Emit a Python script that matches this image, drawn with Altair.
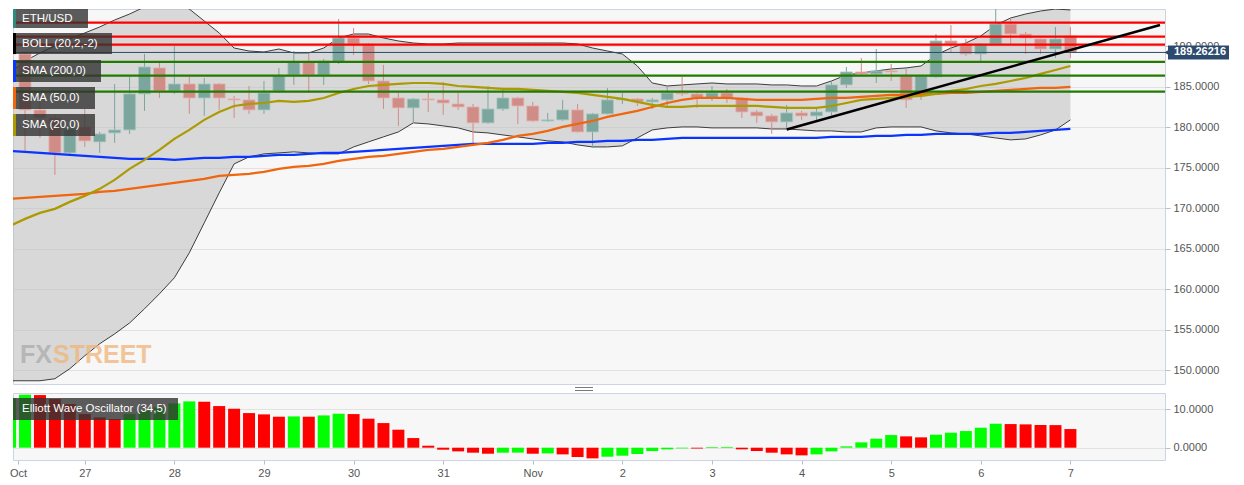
import altair as alt
import pandas as pd

# ---------------- values ----------------
first_candle = "2019-10-26 04:00"      # 4-hour candles
n_candles = 72
time_origin = "2019-10-26 00:00"
view_start = "2019-10-26 06:07"
view_end = "2019-11-08 00:00"

opens = [190.31, 189.07, 182.16, 181.17, 176.85, 180.06, 178.21, 179.32, 179.69, 184.14,
         187.35, 184.51, 185.37, 183.64, 185.37, 183.52, 183.40, 182.16, 184.51, 186.48,
         188.09, 186.48, 188.09, 191.05, 190.31, 185.74, 183.64, 182.41, 183.52, 183.40,
         182.90, 182.53, 180.56, 182.28, 183.64, 182.65, 180.80, 180.93, 182.16, 179.44,
         181.67, 183.40, 183.52, 183.15, 183.40, 184.26, 184.14, 183.64, 184.26, 183.64,
         181.91, 181.42, 180.68, 181.79, 181.42, 181.91, 185.25, 186.85, 186.61, 186.98,
         186.36, 183.89, 186.23, 190.68, 190.31, 189.07, 190.31, 192.78, 191.54, 190.93,
         189.69, 191.30]
highs = [190.45, 189.30, 183.27, 181.42, 180.19, 182.28, 179.44, 185.37, 186.23, 189.07,
         188.21, 190.06, 186.23, 186.11, 185.49, 183.89, 185.12, 185.74, 187.35, 189.44,
         189.07, 188.46, 193.40, 192.28, 190.43, 187.72, 184.26, 183.64, 184.26, 185.62,
         184.26, 182.90, 185.12, 184.88, 183.77, 183.15, 181.79, 183.40, 182.90, 181.79,
         184.88, 184.26, 183.64, 183.64, 185.00, 186.23, 184.38, 185.12, 184.75, 183.70,
         182.16, 181.67, 182.78, 182.04, 182.41, 185.74, 187.47, 188.58, 189.69, 187.84,
         187.22, 186.40, 191.54, 192.65, 190.93, 190.43, 194.88, 193.40, 191.79, 191.00,
         192.41, 192.41]
lows = [188.95, 177.10, 178.70, 174.14, 176.70, 177.59, 176.85, 178.09, 179.20, 182.04,
        183.64, 184.14, 181.67, 181.42, 182.16, 181.17, 181.67, 181.67, 184.26, 185.25,
        184.26, 185.25, 187.84, 188.95, 185.37, 182.28, 180.19, 180.56, 181.91, 181.54,
        182.16, 177.96, 180.43, 182.04, 180.43, 180.68, 180.68, 180.80, 179.35, 177.47,
        181.60, 182.90, 182.65, 182.28, 182.41, 183.89, 182.41, 183.27, 183.02, 181.17,
        180.56, 179.20, 179.81, 180.93, 180.80, 181.42, 184.88, 186.48, 185.49, 185.74,
        182.41, 183.40, 186.10, 189.20, 188.83, 188.21, 190.20, 190.31, 189.07, 189.07,
        188.58, 188.58]
closes = [189.07, 182.16, 181.17, 176.85, 179.81, 178.33, 179.20, 179.69, 184.14, 187.47,
          184.51, 185.37, 183.64, 185.37, 183.64, 183.40, 182.16, 184.26, 186.36, 188.09,
          186.48, 188.21, 191.05, 190.31, 185.74, 183.64, 182.41, 183.52, 183.40, 183.02,
          182.53, 180.56, 182.28, 183.64, 182.65, 180.80, 180.93, 182.16, 179.44, 181.67,
          183.40, 183.52, 183.15, 183.40, 184.26, 184.14, 183.64, 184.26, 183.64, 181.91,
          181.42, 180.68, 181.79, 181.42, 181.91, 185.25, 186.85, 186.61, 186.98, 186.85,
          183.40, 186.36, 190.68, 190.31, 189.07, 190.31, 192.78, 191.54, 191.05, 189.69,
          190.93, 189.26]

bb_upper = [186.73, 188.21, 189.20, 190.06, 190.93, 191.67, 192.41, 193.27, 194.01, 194.88,
            195.12, 195.37, 194.63, 193.15, 191.67, 189.81, 189.44, 189.32, 189.69, 189.20,
            189.20, 189.81, 191.05, 191.54, 191.54, 191.05, 190.68, 190.43, 190.31, 190.31,
            190.43, 190.43, 190.43, 190.43, 190.43, 190.43, 190.43, 190.43, 190.31, 189.81,
            189.44, 189.07, 187.59, 185.49, 185.12, 185.25, 185.37, 185.49, 185.37, 185.37,
            185.37, 185.25, 185.25, 185.12, 185.12, 185.74, 186.48, 186.73, 186.98, 187.22,
            187.35, 187.59, 188.95, 189.81, 190.43, 191.30, 192.65, 193.52, 194.01, 194.38,
            194.63, 194.51]
bb_lower = [148.70, 148.70, 148.70, 148.95, 150.19, 151.79, 153.27, 154.49, 155.84, 157.59,
            159.44, 161.42, 164.51, 168.21, 171.91, 175.49, 176.36, 176.73, 176.85, 176.98,
            176.85, 176.73, 176.73, 177.59, 178.21, 178.83, 179.44, 180.56, 180.43, 180.19,
            179.94, 179.44, 179.32, 179.07, 178.83, 178.58, 178.33, 178.21, 177.84, 177.59,
            177.59, 177.72, 178.70, 179.69, 179.94, 180.06, 180.06, 179.94, 179.94, 179.94,
            179.94, 179.81, 179.81, 179.69, 179.57, 179.57, 179.44, 179.44, 179.94, 180.06,
            180.06, 180.06, 179.57, 179.32, 179.20, 178.95, 178.70, 178.46, 178.58, 179.07,
            179.69, 180.93]
sma20 = [167.84, 168.70, 169.44, 169.94, 170.80, 171.54, 172.41, 173.52, 174.88, 175.99,
         177.22, 178.58, 179.69, 180.93, 181.91, 182.65, 182.90, 183.02, 183.27, 183.15,
         183.27, 183.64, 184.26, 184.75, 185.12, 185.25, 185.37, 185.49, 185.49, 185.37,
         185.12, 185.00, 184.88, 184.75, 184.75, 184.63, 184.51, 184.38, 184.26, 184.01,
         183.77, 183.52, 183.15, 182.78, 182.53, 182.53, 182.65, 182.65, 182.65, 182.65,
         182.65, 182.53, 182.41, 182.41, 182.41, 182.65, 183.02, 183.40, 183.52, 183.64,
         183.77, 183.89, 184.14, 184.51, 184.75, 185.12, 185.37, 185.74, 186.11, 186.61,
         187.10, 187.59]
sma50 = [171.17, 171.30, 171.42, 171.54, 171.67, 171.79, 172.04, 172.16, 172.41, 172.65,
         172.90, 173.15, 173.40, 173.64, 174.01, 174.14, 174.26, 174.51, 174.88, 175.12,
         175.25, 175.49, 175.86, 176.11, 176.36, 176.48, 176.73, 176.98, 177.22, 177.35,
         177.59, 177.84, 178.09, 178.46, 178.95, 179.20, 179.57, 180.06, 180.43, 180.80,
         181.30, 181.67, 182.04, 182.53, 183.02, 183.40, 183.64, 183.64, 183.64, 183.52,
         183.40, 183.40, 183.40, 183.40, 183.52, 183.64, 183.64, 183.77, 183.89, 184.01,
         184.01, 184.14, 184.14, 184.26, 184.26, 184.38, 184.51, 184.63, 184.75, 184.88,
         184.88, 185.00]
sma200 = [177.10, 176.98, 176.85, 176.73, 176.60, 176.48, 176.36, 176.23, 176.11, 176.11,
          176.11, 175.99, 176.11, 176.23, 176.23, 176.36, 176.36, 176.48, 176.60, 176.60,
          176.73, 176.85, 176.85, 176.98, 177.10, 177.22, 177.35, 177.47, 177.59, 177.72,
          177.84, 177.96, 177.96, 177.96, 177.96, 177.96, 178.09, 178.09, 178.21, 178.21,
          178.33, 178.33, 178.46, 178.46, 178.58, 178.70, 178.70, 178.70, 178.70, 178.70,
          178.70, 178.70, 178.70, 178.70, 178.70, 178.83, 178.83, 178.83, 178.95, 178.95,
          179.07, 179.07, 179.20, 179.20, 179.20, 179.20, 179.32, 179.32, 179.44, 179.57,
          179.69, 179.81]

ewo = [12.96, 13.83, 13.74, 12.70, 11.39, 8.78, 7.91, 7.48, 8.78, 9.65,
       10.52, 11.57, 12.09, 12.00, 10.87, 10.17, 9.04, 8.70, 8.09, 8.17,
       8.09, 8.43, 8.87, 8.78, 7.57, 6.43, 4.70, 2.52, 0.52, -0.52,
       -0.96, -1.30, -1.57, -1.30, -1.28, -1.57, -1.48, -1.74, -2.43, -2.78,
       -2.35, -2.09, -1.65, -0.87, -0.43, -0.17, -0.22, 0.17, 0.20, -0.43,
       -0.87, -1.30, -1.74, -2.00, -1.74, -0.96, 0.35, 1.39, 2.35, 3.30,
       2.96, 2.70, 3.39, 3.91, 4.35, 5.22, 6.26, 6.17, 6.09, 5.91,
       5.90, 4.87]
ewo_dir = ["g", "g", "r", "r", "r", "r", "r", "r", "g", "g",
           "g", "g", "g", "r", "r", "r", "r", "r", "r", "g",
           "r", "g", "g", "r", "r", "r", "r", "r", "r", "r",
           "r", "r", "r", "g", "g", "r", "g", "r", "r", "r",
           "g", "g", "g", "g", "g", "g", "r", "g", "g", "r",
           "r", "r", "r", "r", "g", "g", "g", "g", "g", "g",
           "r", "r", "g", "g", "g", "g", "g", "r", "r", "r",
           "r", "r"]

red_levels = [192.94, 191.21, 190.22]
green_levels = [188.09, 186.40, 184.42]
last_price = 189.26216
trend_times = ["2019-11-03 20:00", "2019-11-08 00:00"]
trend_prices = [179.75, 192.65]

price_ticks = [150, 155, 160, 165, 170, 175, 180, 185, 190]
ewo_ticks = [0, 10]
x_tick_dates = [view_start, "2019-10-27", "2019-10-28", "2019-10-29", "2019-10-30",
                "2019-10-31", "2019-11-01", "2019-11-02", "2019-11-03", "2019-11-04",
                "2019-11-05", "2019-11-06", "2019-11-07"]
x_tick_labels = ["Oct", "27", "28", "29", "30", "31", "Nov", "2", "3", "4", "5", "6", "7"]

legend_labels = ["ETH/USD", "BOLL (20,2,-2)", "SMA (200,0)", "SMA (50,0)", "SMA (20,0)"]
osc_label = "Elliott Wave Oscillator (34,5)"
watermark = ["FX", "STREET"]

# ---------------- build tables ----------------
origin = pd.Timestamp(time_origin)


def hours(t):
    return (pd.Timestamp(t) - origin) / pd.Timedelta(hours=1)


times = pd.date_range(first_candle, periods=n_candles, freq="4h")
df = pd.DataFrame({
    "h": [(t - origin) / pd.Timedelta(hours=1) for t in times],
    "open": opens, "high": highs, "low": lows, "close": closes,
    "bb_upper": bb_upper, "bb_lower": bb_lower,
    "sma20": sma20, "sma50": sma50, "sma200": sma200,
    "ewo": ewo, "ewo_dir": ewo_dir,
})
df_trend = pd.DataFrame({"h": [hours(t) for t in trend_times], "price": trend_prices})
df_red = pd.DataFrame({"price": red_levels})
df_green = pd.DataFrame({"price": green_levels})
df_last = pd.DataFrame({"price": [last_price], "label": [f"{last_price:.5f}"]})

tick_hours = [hours(t) for t in x_tick_dates]
label_expr = "".join(
    f"abs(datum.value - {h:.4f}) < 0.5 ? '{lab}' : " for h, lab in zip(tick_hours, x_tick_labels)
) + "''"

W = 1152
H_MAIN = 375
H_OSC = 67

x_scale = alt.Scale(domain=[hours(view_start), hours(view_end)], nice=False, zero=False)
y_scale = alt.Scale(domain=[148.30, 194.63], nice=False, zero=False)
e_scale = alt.Scale(domain=[-3.21, 14.28], nice=False, zero=False)

y_axis = alt.Axis(orient="right", values=price_ticks, format=".4f", title=None,
                  tickSize=5, labelPadding=3, grid=True, labelOverlap=False)
X = alt.X("h:Q", scale=x_scale, axis=None)


def Y(field):
    return alt.Y(field, type="quantitative", scale=y_scale, axis=y_axis)


base = alt.Chart(df)
up = "datum.close >= datum.open"

band = base.mark_area(color="#b9b9b9", opacity=0.5, clip=True).encode(
    x=X, y=Y("bb_lower"), y2="bb_upper")
band_up = base.mark_line(color="#3d3d3d", strokeWidth=1, clip=True).encode(x=X, y=Y("bb_upper"))
band_lo = base.mark_line(color="#3d3d3d", strokeWidth=1, clip=True).encode(x=X, y=Y("bb_lower"))

wicks = base.mark_rule(strokeWidth=1, clip=True).encode(
    x=X, y=Y("low"), y2="high",
    color=alt.condition(up, alt.value("#7ca69d"), alt.value("#d08c86")))
bodies = base.mark_bar(size=12, clip=True, strokeWidth=1, strokeOpacity=0.8).encode(
    x=X, y=Y("open"), y2="close",
    color=alt.condition(up, alt.value("#7ca69d"), alt.value("#d08c86")),
    stroke=alt.condition(up, alt.value("#a9c8c1"), alt.value("#e6b4af")))

l200 = base.mark_line(color="#0a35ff", strokeWidth=2.2, clip=True).encode(x=X, y=Y("sma200"))
l50 = base.mark_line(color="#f0650e", strokeWidth=2.2, clip=True).encode(x=X, y=Y("sma50"))
l20 = base.mark_line(color="#ab9a00", strokeWidth=2.2, clip=True).encode(x=X, y=Y("sma20"))

reds = alt.Chart(df_red).mark_rule(color="#ff0000", strokeWidth=2.2).encode(y=Y("price"))
greens = alt.Chart(df_green).mark_rule(color="#227a00", strokeWidth=2.2).encode(y=Y("price"))
last_line = alt.Chart(df_last).mark_rule(color="#2c4a6e", strokeWidth=1).encode(y=Y("price"))

trend = alt.Chart(df_trend).mark_line(color="#000000", strokeWidth=2.5, clip=True).encode(
    x=X, y=Y("price"))

price_box = alt.Chart(df_last).mark_rect(color="#2c4a6e", yOffset=-7, y2Offset=7).encode(
    x=alt.value(W + 3), x2=alt.value(W + 64), y=Y("price"), y2="price")
price_arrow = alt.Chart(df_last).mark_point(shape="triangle-left", filled=True, size=40,
                                            color="#2c4a6e", opacity=1).encode(
    x=alt.value(W + 2), y=Y("price"))
price_text = alt.Chart(df_last).mark_text(align="left", baseline="middle", color="white",
                                          fontWeight="bold", fontSize=11,
                                          font="Liberation Sans").encode(
    x=alt.value(W + 9), y=Y("price"), text="label:N")

one = pd.DataFrame({"k": [0]})
legend_layers = []
legend_geo = [(0, 19, 75), (24, 45, 99), (51, 73, 88), (78, 100, 82), (105, 127, 82)]
legend_stripes = ["#2e8b7a", "#000000", "#0a35ff", "#f0650e", "#ab9a00"]
for lab, (top, bot, right), sc in zip(legend_labels, legend_geo, legend_stripes):
    legend_layers.append(alt.Chart(one).mark_rect(color="#333333", opacity=0.8).encode(
        x=alt.value(0), x2=alt.value(right), y=alt.value(top), y2=alt.value(bot)))
    legend_layers.append(alt.Chart(one).mark_rect(color=sc).encode(
        x=alt.value(0), x2=alt.value(3), y=alt.value(top), y2=alt.value(bot)))
    legend_layers.append(alt.Chart(pd.DataFrame({"t": [lab]})).mark_text(
        align="left", baseline="middle", color="white", fontSize=11.5,
        font="Liberation Sans").encode(
        x=alt.value(9), y=alt.value((top + bot) / 2), text="t:N"))

wm_fx = alt.Chart(pd.DataFrame({"t": [watermark[0]]})).mark_text(
    align="left", baseline="alphabetic", font="Liberation Sans", fontWeight="bold",
    fontSize=25, color="#ababab", opacity=0.75).encode(x=alt.value(7), y=alt.value(354), text="t:N")
wm_st = alt.Chart(pd.DataFrame({"t": [watermark[1]]})).mark_text(
    align="left", baseline="alphabetic", font="Liberation Sans", fontWeight="bold",
    fontSize=25, color="#f0b57a", opacity=0.75).encode(x=alt.value(40), y=alt.value(354), text="t:N")

handle = [alt.Chart(one).mark_rule(color="#7a7a7a", strokeWidth=1).encode(
    x=alt.value(562), x2=alt.value(580), y=alt.value(v)) for v in (378.5, 381.5)]

main = alt.layer(
    band, band_up, band_lo, wicks, bodies, l200, l50, l20,
    reds, greens, last_line, trend, price_box, price_arrow, price_text,
    wm_fx, wm_st, *legend_layers, *handle
).properties(width=W, height=H_MAIN)

osc_bars = base.mark_bar(size=12, clip=True).encode(
    x=alt.X("h:Q", scale=x_scale,
            axis=alt.Axis(values=tick_hours, labelExpr=label_expr, title=None, tickSize=4,
                          labelPadding=3, grid=False, labelFlush=True, labelOverlap=False)),
    y=alt.Y("ewo:Q", scale=e_scale,
            axis=alt.Axis(orient="right", values=ewo_ticks, format=".4f", title=None,
                          tickSize=5, labelPadding=3, grid=True)),
    y2=alt.datum(0),
    color=alt.condition("datum.ewo_dir == 'g'", alt.value("#00ff00"), alt.value("#ff0000")))
osc_box = alt.Chart(one).mark_rect(color="#333333", opacity=0.8).encode(
    x=alt.value(0), x2=alt.value(165), y=alt.value(5), y2=alt.value(27))
osc_text = alt.Chart(pd.DataFrame({"t": [osc_label]})).mark_text(
    align="left", baseline="middle", color="white", fontSize=11.5, font="Liberation Sans").encode(
    x=alt.value(9), y=alt.value(16), text="t:N")

osc = alt.layer(osc_bars, osc_box, osc_text).properties(width=W, height=H_OSC)

chart = alt.vconcat(main, osc, spacing=9, bounds="flush").properties(
    padding=0
).configure_view(
    fill="#f7f7f7", stroke="#ccd4e4", strokeWidth=1
).configure_axis(
    labelFont="Liberation Sans", labelFontSize=11, labelColor="#555555",
    gridColor="#e2e2e2", tickColor="#b8bfcc", domain=False
)

chart.save("out.html", embed_options={"renderer": "svg", "actions": False})
